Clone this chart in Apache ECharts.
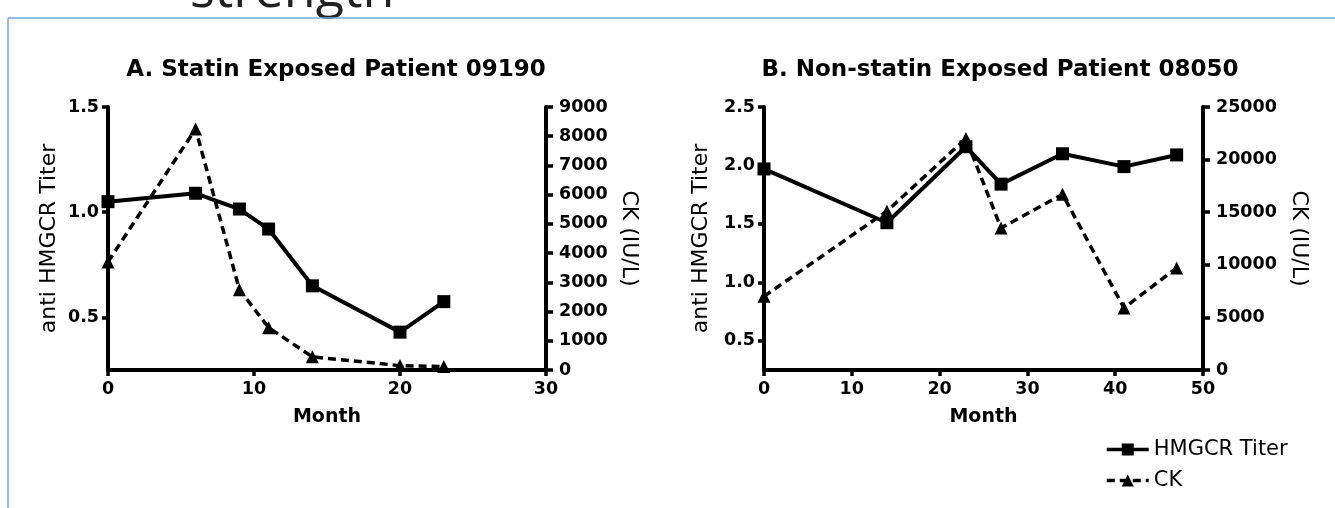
<!DOCTYPE html>
<html>
<head>
<meta charset="utf-8">
<title>HMGCR titer and CK</title>
<script src="https://cdn.jsdelivr.net/npm/echarts@6/dist/echarts.min.js"></script>
<style>
  html, body { margin: 0; padding: 0; background: #fff; }
  #main { width: 1335px; height: 508px; }
</style>
</head>
<body>
<div id="main"></div>
<script>
// A. statin exposed patient
const monthsA = [0, 6, 9, 11, 14, 20, 23];
const titerA = [1.05, 1.09, 1.015, 0.92, 0.65, 0.43, 0.575];
const ckA = [3700, 8250, 2750, 1450, 450, 150, 120];
// B. non-statin exposed patient
const monthsB = [0, 14, 23, 27, 34, 41, 47];
const titerB = [1.97, 1.51, 2.16, 1.84, 2.10, 1.99, 2.09];
const ckB = [7000, 15100, 22000, 13500, 16700, 5900, 9700];
// tick labels on the titer axes
const titerTicksA = [0.5, 1.0, 1.5];
const titerTicksB = [0.5, 1.0, 1.5, 2.0, 2.5];

const pairs = (xs, ys) => xs.map((x, i) => [x, ys[i]]);

const tickFont = {
  color: "#000",
  fontFamily: "DejaVu Sans",
  fontWeight: "bold",
  fontSize: 17.5,
};
const nameFont = {
  color: "#000",
  fontFamily: "DejaVu Sans",
  fontSize: 22,
};

function xAxis(gridIndex, max) {
  return {
    type: "value",
    gridIndex: gridIndex,
    min: 0,
    max: max,
    interval: 10,
    name: "Month",
    nameLocation: "middle",
    nameGap: 38,
    nameTextStyle: { ...tickFont, fontSize: 19 },
    axisLine: { show: true, onZero: false, lineStyle: { color: "#000", width: 4 } },
    axisTick: { show: true, length: 6, lineStyle: { color: "#000", width: 3.5 } },
    axisLabel: { ...tickFont, margin: 10 },
    splitLine: { show: false },
  };
}

function titerAxis(gridIndex, max, ticks, gap) {
  return {
    type: "value",
    gridIndex: gridIndex,
    position: "left",
    min: 0.25,
    max: max,
    name: "anti HMGCR Titer",
    nameLocation: "middle",
    nameGap: gap,
    nameTextStyle: nameFont,
    axisLine: { show: true, onZero: false, lineStyle: { color: "#000", width: 4 } },
    axisTick: {
      show: true,
      length: 6,
      customValues: ticks,
      lineStyle: { color: "#000", width: 3.5 },
    },
    axisLabel: {
      ...tickFont,
      margin: 9,
      customValues: ticks,
      formatter: (v) => v.toFixed(1),
    },
    splitLine: { show: false },
  };
}

function ckAxis(gridIndex, max, interval, gap) {
  return {
    type: "value",
    gridIndex: gridIndex,
    position: "right",
    min: 0,
    max: max,
    interval: interval,
    name: "CK (IU/L)",
    nameLocation: "middle",
    nameRotate: -90,
    nameGap: gap,
    nameTextStyle: nameFont,
    axisLine: { show: true, onZero: false, lineStyle: { color: "#000", width: 4 } },
    axisTick: { show: true, length: 7, lineStyle: { color: "#000", width: 3.5 } },
    axisLabel: { ...tickFont, margin: 13, formatter: (v) => String(v) },
    splitLine: { show: false },
  };
}

function titerSeries(xIdx, yIdx, data) {
  return {
    name: "HMGCR Titer",
    type: "line",
    xAxisIndex: xIdx,
    yAxisIndex: yIdx,
    data: data,
    symbol: "rect",
    symbolSize: 13,
    itemStyle: { color: "#000" },
    lineStyle: { color: "#000", width: 4 },
    z: 3,
  };
}

function ckSeries(xIdx, yIdx, data) {
  return {
    name: "CK",
    type: "line",
    xAxisIndex: xIdx,
    yAxisIndex: yIdx,
    data: data,
    symbol: "triangle",
    symbolSize: 13,
    itemStyle: { color: "#000" },
    lineStyle: { color: "#000", width: 3.5, type: [8, 5] },
    z: 2,
  };
}

const chart = echarts.init(document.getElementById("main"));
chart.setOption({
  animation: false,
  backgroundColor: "#fff",
  title: [
    {
      text: "A. Statin Exposed Patient 09190",
      left: 331,
      top: 54,
      textAlign: "center",
      textStyle: { ...tickFont, fontSize: 23 },
    },
    {
      text: "B. Non-statin Exposed Patient 08050",
      left: 995,
      top: 54,
      textAlign: "center",
      textStyle: { ...tickFont, fontSize: 23 },
    },
  ],
  legend: {
    data: ["HMGCR Titer", "CK"],
    orient: "vertical",
    left: 1100,
    top: 434,
    itemWidth: 42,
    itemHeight: 15,
    itemGap: 10,
    lineStyle: { width: 3.5 },
    textStyle: { color: "#000", fontFamily: "DejaVu Sans", fontSize: 21 },
  },
  grid: [
    { left: 108, top: 107, width: 438, height: 263 },
    { left: 764, top: 107, width: 439, height: 263 },
  ],
  xAxis: [xAxis(0, 30), xAxis(1, 50)],
  yAxis: [
    titerAxis(0, 1.5, titerTicksA, 48),
    ckAxis(0, 9000, 1000, 72),
    titerAxis(1, 2.5, titerTicksB, 52),
    ckAxis(1, 25000, 5000, 85),
  ],
  series: [
    titerSeries(0, 0, pairs(monthsA, titerA)),
    ckSeries(0, 1, pairs(monthsA, ckA)),
    titerSeries(1, 2, pairs(monthsB, titerB)),
    ckSeries(1, 3, pairs(monthsB, ckB)),
  ],
  graphic: [
    // slide frame and the cut-off heading above it
    {
      type: "text",
      left: 190,
      top: -34,
      style: {
        text: "strength",
        fill: "#222",
        font: "52px 'Open Sans'",
      },
    },
    {
      type: "line",
      shape: { x1: 8, y1: 18, x2: 1335, y2: 18 },
      style: { stroke: "#7aa6dc", lineWidth: 1.5 },
    },
    {
      type: "line",
      shape: { x1: 8, y1: 18, x2: 8, y2: 508 },
      style: { stroke: "#7aa6dc", lineWidth: 1.5 },
    },
  ],
});
</script>
</body>
</html>
